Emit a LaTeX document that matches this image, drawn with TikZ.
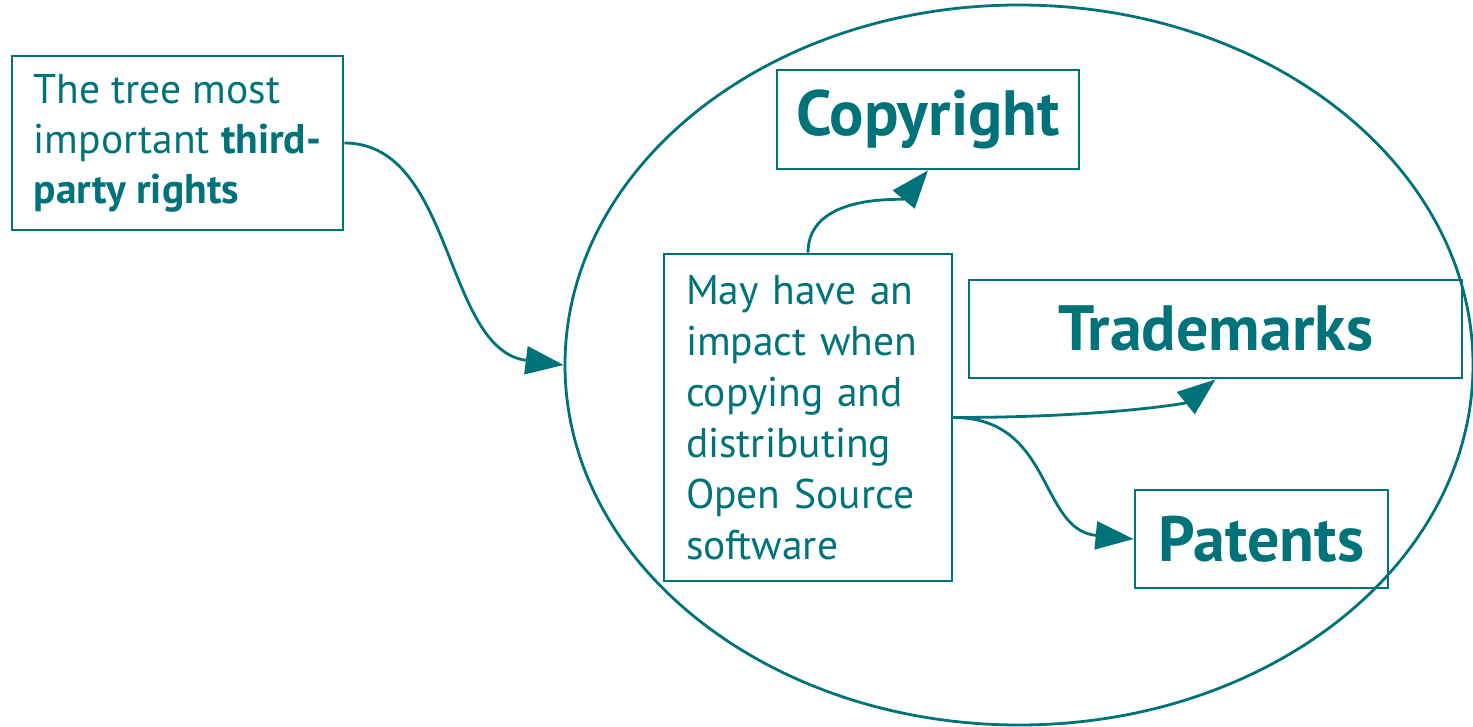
\documentclass[tikz,border=0pt]{standalone}
\usepackage{fontspec}
\setmainfont{PT Sans}
\usetikzlibrary{arrows.meta,shapes.geometric}
\definecolor{rightsteal}{RGB}{0,115,122}
\tikzset{
  box/.style={draw=rightsteal, line width=2.8pt, text=rightsteal, inner sep=0pt, align=left,
    font=\fontsize{41.5}{51}\selectfont},
  headbox/.style={box, align=center, font=\bfseries\fontsize{64}{70}\selectfont},
  link/.style={draw=rightsteal, line width=2.8pt, -{Triangle[length=38pt,width=28pt]}}
}

\begin{document}
\begin{tikzpicture}[x=1pt,y=-1pt]
\useasboundingbox (0,0) rectangle (1473,727);

%Ellipse
\node [ellipse, draw=rightsteal, line width=2.8pt, minimum width=908, minimum height=720, inner sep=0pt] (scope) at (1019,365) {};

% Text Node
\node [box, minimum width=331, minimum height=174, font=\fontsize{41.5}{50}\selectfont] (rights) at (177.5,143)
  {The tree most\\important \textbf{third-}\\\textbf{party rights}};
% Text Node
\node [box, text width=244, minimum width=288, minimum height=327] (impact) at (808,417.5)
  {May have an\\impact when\\copying and\\distributing\\Open Source\\software};
% Text Node
\node [headbox, minimum width=302, minimum height=99] (copy) at (928,119.5) {Copyright};
% Text Node
\node [headbox, minimum width=493, minimum height=98] (marks) at (1215.5,329) {Trademarks};
% Text Node
\node [headbox, minimum width=253, minimum height=98] (patents) at (1261.5,539) {Patents};

%Curves
\draw [link] (rights.east) .. controls +(110,0) and +(-120,-15) .. (scope.west);
\draw [link] (impact.north) .. controls +(0,-60) and +(-25,30) .. (copy.south);
\draw [link] (impact.east) .. controls +(150,0) and +(-30,24) .. (marks.south);
\draw [link] (impact.east) .. controls +(100,0) and +(-95,-9) .. (patents.west);

\end{tikzpicture}
\end{document}
